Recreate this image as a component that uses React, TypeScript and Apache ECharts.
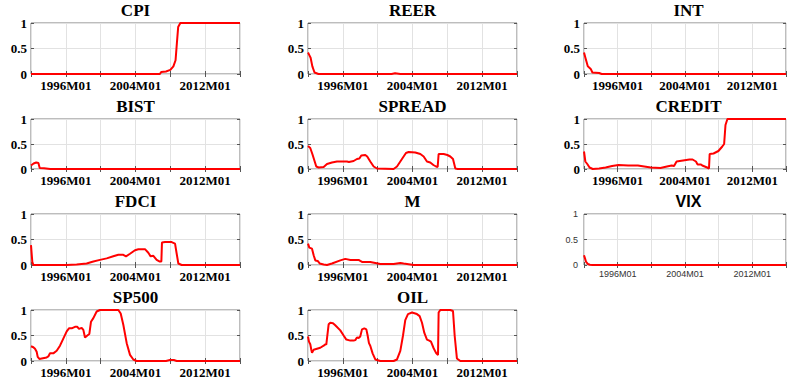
import React, { useEffect, useRef } from "react";
import * as echarts from "echarts";

const titles = ["CPI", "REER", "INT", "BIST", "SPREAD", "CREDIT", "FDCI", "M", "VIX", "SP500", "OIL"];
const labelYears = [1996, 2004, 2012];
const xTickLabels = ["1996M01", "2004M01", "2012M01"];
const yTickValues = [0, 0.5, 1];

const cpi = [[1992, 0], [2006.8, 0], [2006.95, 0.04], [2007.5, 0.05], [2008.0, 0.08], [2008.35, 0.15], [2008.6, 0.27], [2008.75, 0.6], [2008.9, 0.92], [2009.15, 1], [2016, 1]];
const reer = [[1992, 0.42], [1992.15, 0.37], [1992.3, 0.32], [1992.5, 0.15], [1992.75, 0.03], [1993.2, 0], [2001.6, 0], [2002.0, 0.015], [2002.6, 0], [2016, 0]];
const intr = [[1992, 0.42], [1992.2, 0.3], [1992.45, 0.15], [1992.8, 0.1], [1993.0, 0.03], [1993.8, 0.02], [1994.1, 0], [2016, 0]];
const bist = [[1992, 0.07], [1992.3, 0.11], [1992.6, 0.13], [1992.85, 0.12], [1993.0, 0.02], [1993.5, 0.015], [1994.2, 0], [2016, 0]];
const spread = [[1992, 0.46], [1992.26, 0.42], [1992.5, 0.3], [1992.95, 0.05], [1993.22, 0.03], [1993.8, 0.04], [1994.18, 0.1], [1994.75, 0.13], [1995.33, 0.15], [1996.47, 0.15], [1996.7, 0.14], [1997.24, 0.16], [1997.62, 0.2], [1997.9, 0.21], [1998.12, 0.27], [1998.58, 0.28], [1998.8, 0.25], [1999.15, 0.15], [1999.54, 0.05], [1999.92, 0.01], [2001.83, 0], [2002.22, 0.05], [2002.79, 0.2], [2003.25, 0.32], [2003.56, 0.34], [2004.32, 0.33], [2004.9, 0.3], [2005.28, 0.25], [2005.66, 0.15], [2006.04, 0.13], [2006.4, 0.08], [2006.7, 0.05], [2006.89, 0.04], [2007.0, 0.3], [2007.58, 0.3], [2008.0, 0.28], [2008.34, 0.25], [2008.65, 0.2], [2008.92, 0.01], [2009.2, 0], [2016, 0]];
const credit = [[1992, 0.35], [1992.16, 0.15], [1992.39, 0.1], [1992.66, 0.03], [1993.04, 0.0], [1993.8, 0.01], [1994.57, 0.03], [1995.34, 0.06], [1996.1, 0.08], [1997.25, 0.07], [1998.4, 0.07], [1999.16, 0.05], [1999.93, 0.03], [2001.08, 0.02], [2001.85, 0.05], [2002.42, 0.07], [2002.7, 0.06], [2003.0, 0.15], [2003.76, 0.17], [2004.53, 0.19], [2004.9, 0.19], [2005.3, 0.15], [2005.5, 0.09], [2005.9, 0.09], [2006.05, 0.07], [2006.63, 0.03], [2006.85, 0.01], [2006.93, 0.3], [2007.39, 0.31], [2007.97, 0.36], [2008.43, 0.45], [2008.65, 0.5], [2008.81, 0.88], [2009.04, 1], [2016, 1]];
const fdci = [[1992, 0.39], [1992.15, 0.06], [1992.27, 0], [1996.1, 0], [1997.24, 0.01], [1998.39, 0.03], [1999.16, 0.07], [1999.92, 0.1], [2000.69, 0.13], [2001.45, 0.17], [2002.03, 0.2], [2002.6, 0.2], [2002.91, 0.17], [2003.37, 0.22], [2003.94, 0.29], [2004.33, 0.31], [2005.09, 0.31], [2005.47, 0.24], [2005.74, 0.17], [2006.05, 0.18], [2006.43, 0.1], [2006.74, 0.07], [2006.97, 0.07], [2007.04, 0.44], [2007.39, 0.45], [2008.15, 0.45], [2008.54, 0.42], [2008.73, 0.22], [2008.92, 0.03], [2009.3, 0], [2016, 0]];
const money = [[1992, 0.42], [1992.15, 0.34], [1992.46, 0.32], [1992.65, 0.19], [1992.84, 0.09], [1993.11, 0.08], [1993.34, 0.03], [1993.8, 0.01], [1994.18, 0], [1994.75, 0.03], [1995.71, 0.09], [1996.28, 0.12], [1996.86, 0.1], [1997.81, 0.1], [1998.0, 0.08], [1998.2, 0.06], [1999.15, 0.06], [1999.73, 0.04], [2000.3, 0.02], [2001.83, 0.02], [2002.6, 0.04], [2002.98, 0.03], [2003.75, 0.01], [2004.13, 0], [2016, 0]];
const vix = [[1992, 0.19], [1992.1, 0.14], [1992.25, 0.06], [1992.45, 0.02], [1992.7, 0.005], [1993, 0], [2016, 0]];
const sp500 = [[1992, 0.29], [1992.27, 0.27], [1992.46, 0.24], [1992.65, 0.18], [1992.77, 0.08], [1992.96, 0.04], [1993.23, 0.05], [1993.8, 0.07], [1993.99, 0.09], [1994.18, 0.15], [1994.56, 0.15], [1994.95, 0.2], [1995.33, 0.3], [1995.71, 0.44], [1996.1, 0.58], [1996.36, 0.64], [1996.67, 0.64], [1997.05, 0.67], [1997.32, 0.67], [1997.51, 0.63], [1997.82, 0.65], [1998.01, 0.61], [1998.2, 0.46], [1998.47, 0.5], [1998.7, 0.53], [1998.89, 0.77], [1999.16, 0.84], [1999.54, 0.97], [1999.92, 1], [2002.03, 1], [2002.3, 0.93], [2002.6, 0.71], [2002.99, 0.35], [2003.37, 0.12], [2003.75, 0.03], [2004.13, 0], [2007.5, 0], [2007.96, 0.02], [2008.4, 0.02], [2008.73, 0], [2016, 0]];
const oil = [[1992, 0.48], [1992.11, 0.38], [1992.26, 0.33], [1992.38, 0.22], [1992.46, 0.16], [1992.65, 0.22], [1993.03, 0.24], [1993.41, 0.26], [1993.8, 0.3], [1994.0, 0.33], [1994.1, 0.32], [1994.37, 0.72], [1994.56, 0.75], [1994.87, 0.74], [1995.13, 0.7], [1995.71, 0.6], [1996.09, 0.5], [1996.4, 0.42], [1996.86, 0.4], [1997.24, 0.4], [1997.43, 0.41], [1997.62, 0.46], [1997.81, 0.45], [1998.0, 0.48], [1998.2, 0.62], [1998.47, 0.64], [1998.7, 0.62], [1998.85, 0.5], [1999.0, 0.35], [1999.15, 0.3], [1999.42, 0.15], [1999.73, 0.03], [2000.3, 0], [2001.83, 0], [2002.22, 0.03], [2002.6, 0.2], [2002.91, 0.5], [2003.17, 0.8], [2003.48, 0.92], [2003.94, 0.95], [2004.51, 0.92], [2004.82, 0.88], [2005.09, 0.75], [2005.36, 0.55], [2005.66, 0.42], [2005.93, 0.4], [2006.12, 0.38], [2006.43, 0.25], [2006.73, 0.15], [2006.93, 0.12], [2007.0, 0.95], [2007.19, 1], [2008.34, 1], [2008.65, 0.98], [2008.84, 0.5], [2009.1, 0.05], [2009.49, 0], [2016, 0]];

const seriesList = [cpi, reer, intr, bist, spread, credit, fdci, money, vix, sp500, oil];

const colLefts = [31, 308, 584];
const rowTops = [23, 119, 214, 310];
const rowHeights = [51, 50, 51, 51];
const plotWidth = 209;

const SERIF = "'Liberation Serif', 'Times New Roman', 'DejaVu Serif', serif";
const SANS = "'Liberation Sans', Arial, Helvetica, sans-serif";

function buildOption() {
  const grid: any[] = [];
  const xAxis: any[] = [];
  const yAxis: any[] = [];
  const series: any[] = [];
  const title: any[] = [];
  titles.forEach((name, i) => {
    const row = Math.floor(i / 3);
    const col = i % 3;
    const isVix = name === "VIX";
    const font = isVix ? SANS : SERIF;
    const labelStyle = isVix
      ? { fontFamily: font, fontSize: 9, fontWeight: "normal", color: "#333" }
      : { fontFamily: font, fontSize: 13, fontWeight: "bold", color: "#000" };
    grid.push({
      left: colLefts[col],
      top: rowTops[row],
      width: plotWidth,
      height: rowHeights[row],
      show: true,
      borderColor: "#7a7a7a",
      borderWidth: 1,
      backgroundColor: "#fff",
    });
    const tick = { show: true, inside: true, length: 3, lineStyle: { color: "#555" } };
    xAxis.push({
      gridIndex: i,
      type: "value",
      min: 1992,
      max: 2016,
      interval: 4,
      position: "bottom",
      axisLine: { show: false },
      axisTick: tick,
      splitLine: { show: true, lineStyle: { color: "#e2e2e2", width: 1 } },
      axisLabel: {
        margin: isVix ? 4 : 5,
        ...labelStyle,
        formatter: (v: number) => {
          const k = labelYears.indexOf(v);
          return k >= 0 ? xTickLabels[k] : "";
        },
      },
    });
    xAxis.push({
      gridIndex: i,
      type: "value",
      min: 1992,
      max: 2016,
      interval: 4,
      position: "top",
      axisLine: { show: false },
      axisTick: tick,
      splitLine: { show: false },
      axisLabel: { show: false },
    });
    yAxis.push({
      gridIndex: i,
      type: "value",
      min: 0,
      max: 1,
      interval: 0.5,
      position: "left",
      axisLine: { show: false },
      axisTick: tick,
      splitLine: { show: true, lineStyle: { color: "#e2e2e2", width: 1 } },
      axisLabel: {
        margin: isVix ? 6 : 4,
        ...labelStyle,
        formatter: (v: number) => (yTickValues.indexOf(v) >= 0 ? String(v) : ""),
      },
    });
    yAxis.push({
      gridIndex: i,
      type: "value",
      min: 0,
      max: 1,
      interval: 0.5,
      position: "right",
      axisLine: { show: false },
      axisTick: tick,
      splitLine: { show: false },
      axisLabel: { show: false },
    });
    series.push({
      type: "line",
      xAxisIndex: 2 * i,
      yAxisIndex: 2 * i,
      data: seriesList[i],
      showSymbol: false,
      clip: false,
      lineStyle: { color: "#ff0000", width: 2 },
      z: 5,
    });
    title.push({
      text: name,
      left: colLefts[col] + plotWidth / 2,
      top: rowTops[row] - 21,
      textAlign: "center",
      padding: 0,
      textStyle: {
        fontFamily: font,
        fontWeight: "bold",
        fontSize: isVix ? 16 : 17,
        color: "#000",
      },
    });
  });
  return { animation: false, title, grid, xAxis, yAxis, series };
}

export default function App() {
  const ref = useRef<HTMLDivElement>(null);
  useEffect(() => {
    if (!ref.current) return;
    const chart = echarts.init(ref.current, undefined, { renderer: "svg" });
    chart.setOption(buildOption() as any);
    return () => chart.dispose();
  }, []);
  return (
    <div
      ref={ref}
      style={{ position: "absolute", left: 0, top: 0, width: 789, height: 386, background: "#fff" }}
    />
  );
}
